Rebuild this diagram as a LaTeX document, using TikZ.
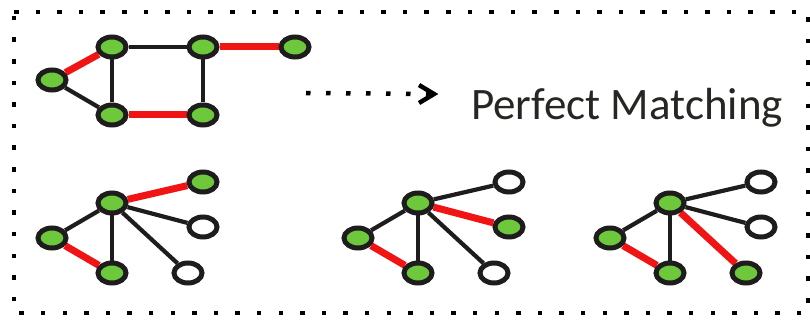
\documentclass[tikz,border=0pt]{standalone}
\usepackage{fontspec}
\newfontfamily\calib{Carlito}
\usetikzlibrary{shapes.geometric,arrows.meta,backgrounds}
\definecolor{vgreen}{RGB}{110,200,60}
\definecolor{vred}{RGB}{240,20,20}
\definecolor{vdark}{RGB}{30,28,28}
\definecolor{vtext}{RGB}{38,38,34}
\tikzset{
  vert/.style={ellipse,draw=vdark,line width=5pt,fill=vgreen,minimum width=28pt,minimum height=20pt,inner sep=0pt},
  vfree/.style={vert,fill=white},
  bedge/.style={draw=vdark,line width=4.2pt},
  redge/.style={draw=vred,line width=7pt},
  frame/.style={draw=black,line width=4.5pt,dash pattern=on 4.5pt off 17.1pt},
  chev/.style={draw=black,line width=4.5pt,line join=miter},
}
\begin{document}
\begin{tikzpicture}[x=1pt,y=-1pt]
\useasboundingbox (0,0) rectangle (810,320);
\draw[frame] (14,12) -- (808,12) -- (808,313) -- (14,313) -- cycle;
% top graph
\node[vert] (a) at (52,80) {};
\node[vert] (b) at (112,47) {};
\node[vert] (c) at (203,47) {};
\node[vert] (d) at (295,47) {};
\node[vert] (e) at (112,115) {};
\node[vert] (f) at (203,115) {};
\begin{pgfonlayer}{background}
\draw[redge] (a) -- (b);
\draw[bedge] (a) -- (e);
\draw[bedge] (b) -- (c);
\draw[bedge] (b) -- (e);
\draw[bedge] (c) -- (f);
\draw[redge] (c) -- (d);
\draw[redge] (e) -- (f);
\end{pgfonlayer}
% arrow and text
\coordinate (p1) at (306,93);
\coordinate (p2) at (434,94);
\draw[line width=4.5pt,dash pattern=on 4.5pt off 15.5pt] (p1) -- (p2);
\draw[chev] ([xshift=-15,yshift=-9]p2) -- (p2) -- ([xshift=-15,yshift=9]p2);
\node[anchor=base west,inner sep=0pt,text=vtext,font=\calib\fontsize{45}{50}\selectfont] (t) at (471,120) {Perfect Matching};
% bottom graphs
\foreach \sh/\fT/\fM/\fR/\eM/\eR in {0/vert/vfree/vfree/bedge/bedge, 306/vfree/vert/vfree/redge/bedge, 558/vfree/vfree/vert/bedge/redge}{
  \begin{scope}[xshift=\sh]
  \node[vert] (h\sh) at (112,203) {};
  \node[vert] (l\sh) at (52,238) {};
  \node[vert] (bb\sh) at (112,273) {};
  \node[\fT] (tt\sh) at (203,182) {};
  \node[\fM] (mm\sh) at (203,227) {};
  \node[\fR] (rr\sh) at (188,273) {};
  \begin{pgfonlayer}{background}
  \draw[bedge] (h\sh) -- (l\sh);
  \draw[bedge] (h\sh) -- (bb\sh);
  \draw[redge] (l\sh) -- (bb\sh);
  \ifnum\sh=0 \draw[redge] (h\sh) -- (tt\sh); \else \draw[bedge] (h\sh) -- (tt\sh); \fi
  \draw[\eM] (h\sh) -- (mm\sh);
  \draw[\eR] (h\sh) -- (rr\sh);
  \end{pgfonlayer}
  \end{scope}
}
\end{tikzpicture}
\end{document}
